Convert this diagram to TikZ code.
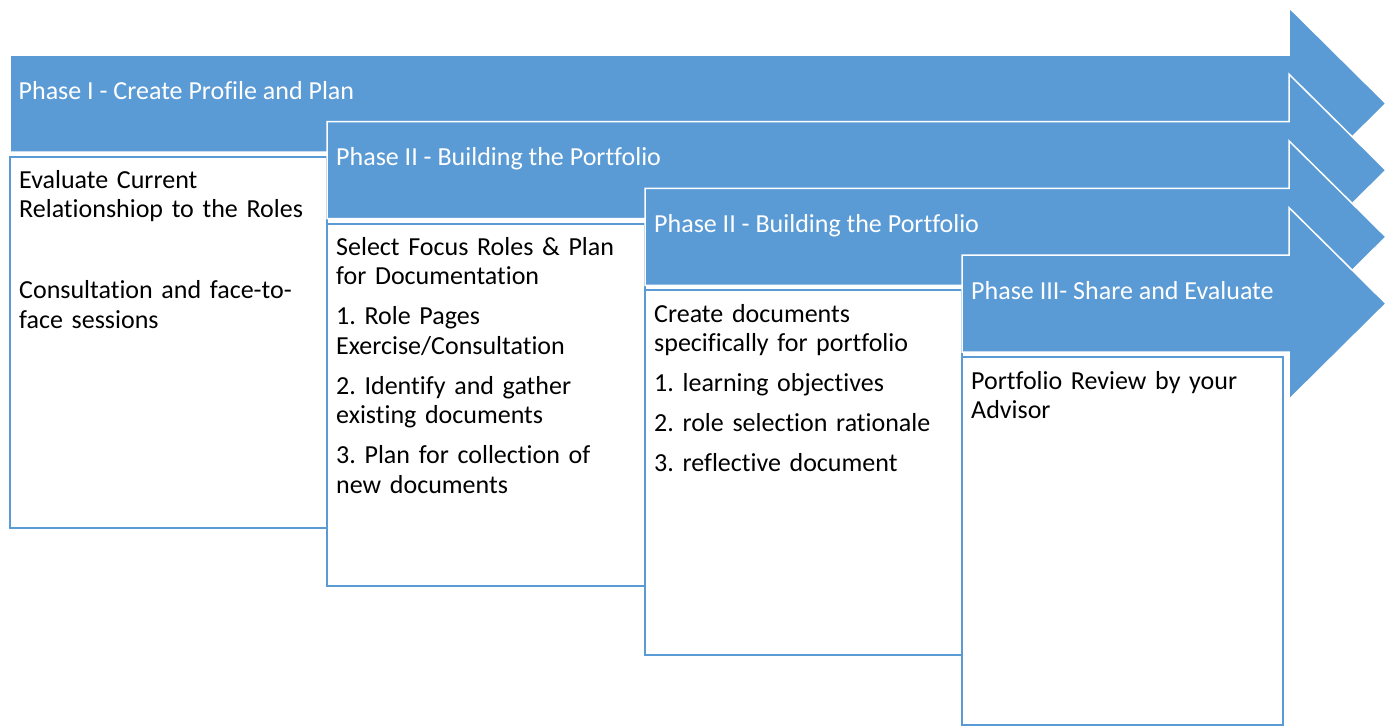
\documentclass[tikz,border=0pt]{standalone}
\usepackage{fontspec}
\setmainfont[Ligatures=NoCommon]{Carlito}
\definecolor{phaseblue}{HTML}{5B9BD5}
\begin{document}
\frenchspacing
\begin{tikzpicture}[x=1pt,y=-1pt,
  phasearrow/.style={fill=phaseblue, draw=white, line width=1.5pt, line join=miter},
  stepbox/.style={fill=white, draw=phaseblue, line width=2pt},
  phaselabel/.style={anchor=base west, inner sep=0pt, text=white, font=\fontsize{26}{29.5}\selectfont},
  boxtext/.style={anchor=base west, inner sep=0pt, align=left, text width=310pt, font=\fontsize{26}{29.5}\selectfont}]
\useasboundingbox (0,0) rectangle (1394,726);
% four overlapping phase arrows, each followed by its step box
\foreach \xl/\xr/\t/\b in {10/327/55/528, 327/645/121.7/586, 645/962/188.4/655, 962/1283/255.1/725}{
  \path[phasearrow] (\xl,\t) -- (1289,\t) -- (1289,{\t-47.5}) -- (1386,{\t+48.5})
     -- (1289,{\t+144.5}) -- (1289,{\t+97}) -- (\xl,{\t+97}) -- cycle;
  \path[stepbox] (\xl,{\t+102}) rectangle (\xr,\b);
}
% phase titles
\node[phaselabel] (label1) at (18.5,99) {Phase I - Create Profile and Plan};
\node[phaselabel] (label2) at (336,165.7) {Phase II - Building the Portfolio};
\node[phaselabel] (label3) at (654,232.4) {Phase II - Building the Portfolio};
\node[phaselabel] (label4) at (971,299.1) {Phase III- Share and Evaluate};
% box contents
\node[boxtext] (text1) at (19,188) {Evaluate Current\\Relationshiop to the Roles\\[51.5pt]Consultation and face-to-\\face sessions};
\node[boxtext] (text2) at (336,255) {Select Focus Roles \& Plan\\for Documentation\\[10.5pt]1. Role Pages\\Exercise/Consultation\\[10.5pt]2. Identify and gather\\existing documents\\[10.5pt]3. Plan for collection of\\new documents};
\node[boxtext] (text3) at (654,322) {Create documents\\specifically for portfolio\\[10.5pt]1. learning objectives\\[10.5pt]2. role selection rationale\\[10.5pt]3. reflective document};
\node[boxtext] (text4) at (971,389) {Portfolio Review by your\\Advisor};
\end{tikzpicture}
\end{document}
